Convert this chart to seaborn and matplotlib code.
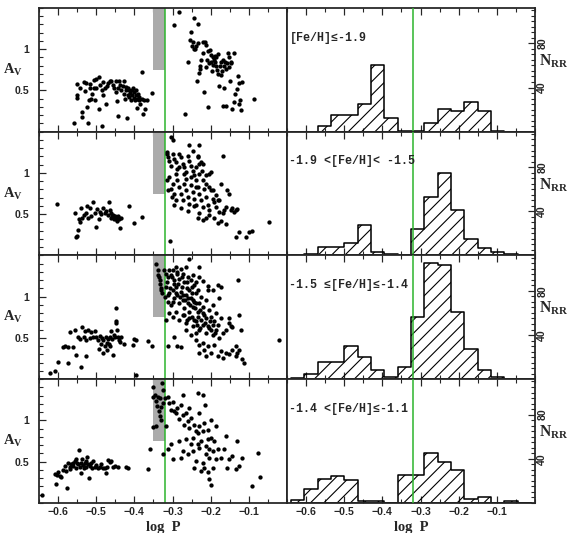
import numpy as np
import pandas as pd
import matplotlib
matplotlib.use('Agg')
import matplotlib.pyplot as plt
from matplotlib.ticker import MultipleLocator, FixedLocator
import seaborn as sns

# --- DATOS ---

# bordes de los bins del histograma (log P)
bin_edges = [-0.640, -0.605, -0.570, -0.535, -0.500, -0.465, -0.430, -0.395, -0.360,
             -0.325, -0.290, -0.255, -0.220, -0.185, -0.150, -0.115, -0.080, -0.045, -0.010]

# N_RR por bin, un arreglo por intervalo de metalicidad
n_feh1 = [0, 0, 5, 15, 15, 25, 60, 12, 1, 1, 8, 21, 19, 27, 19, 1, 0, 0]
n_feh2 = [0, 1, 8, 8, 11, 28, 3, 1, 0, 24, 53, 75, 41, 15, 7, 3, 1, 0]
n_feh3 = [1, 5, 16, 16, 30, 20, 8, 2, 11, 56, 105, 103, 61, 27, 8, 2, 0, 0]
n_feh4 = [3, 13, 22, 24, 21, 2, 2, 0, 25, 25, 45, 37, 30, 4, 5, 0, 2, 0]

# estrellas (log P, A_V)
stars_feh1 = [
    (-0.559, 0.10), (-0.550, 0.58), (-0.550, 0.45), (-0.550, 0.41), (-0.543, 0.53), (-0.538, 0.24),
    (-0.536, 0.18), (-0.531, 0.60), (-0.529, 0.49), (-0.526, 0.59), (-0.524, 0.30), (-0.521, 0.11),
    (-0.519, 0.38), (-0.517, 0.53), (-0.515, 0.58), (-0.514, 0.40), (-0.510, 0.46), (-0.507, 0.63),
    (-0.505, 0.53), (-0.503, 0.38), (-0.500, 0.53), (-0.500, 0.64), (-0.494, 0.66), (-0.494, 0.27),
    (-0.491, 0.57), (-0.486, 0.50), (-0.484, 0.07), (-0.482, 0.60), (-0.481, 0.45), (-0.477, 0.53),
    (-0.475, 0.34), (-0.472, 0.55), (-0.468, 0.59), (-0.465, 0.61), (-0.461, 0.62), (-0.456, 0.57),
    (-0.453, 0.53), (-0.449, 0.48), (-0.447, 0.62), (-0.446, 0.37), (-0.444, 0.19), (-0.442, 0.53),
    (-0.439, 0.62), (-0.437, 0.57), (-0.434, 0.50), (-0.430, 0.55), (-0.428, 0.61), (-0.427, 0.46),
    (-0.425, 0.40), (-0.423, 0.54), (-0.421, 0.50), (-0.420, 0.17), (-0.418, 0.45), (-0.416, 0.53),
    (-0.414, 0.42), (-0.413, 0.51), (-0.411, 0.47), (-0.409, 0.38), (-0.407, 0.50), (-0.406, 0.44),
    (-0.404, 0.53), (-0.402, 0.41), (-0.400, 0.48), (-0.399, 0.38), (-0.397, 0.44), (-0.395, 0.50),
    (-0.394, 0.29), (-0.392, 0.40), (-0.390, 0.46), (-0.388, 0.38), (-0.387, 0.42), (-0.385, 0.34),
    (-0.381, 0.40), (-0.380, 0.73), (-0.378, 0.22), (-0.376, 0.38), (-0.371, 0.27), (-0.366, 0.38),
    (-0.355, 0.47),
    (-0.296, 1.29), (-0.282, 1.45), (-0.268, 0.21), (-0.260, 0.85), (-0.254, 1.11), (-0.251, 1.21),
    (-0.249, 1.04), (-0.247, 1.09), (-0.244, 1.38), (-0.244, 1.00), (-0.240, 1.00), (-0.239, 1.04),
    (-0.237, 0.61), (-0.233, 1.31), (-0.232, 1.08), (-0.230, 0.71), (-0.228, 0.76), (-0.227, 0.80),
    (-0.225, 0.87), (-0.221, 1.09), (-0.220, 0.95), (-0.218, 0.48), (-0.216, 1.09), (-0.213, 1.05),
    (-0.211, 0.79), (-0.209, 0.87), (-0.207, 0.98), (-0.206, 0.30), (-0.204, 0.83), (-0.202, 0.99),
    (-0.200, 0.84), (-0.199, 0.93), (-0.197, 0.74), (-0.195, 0.90), (-0.193, 0.81), (-0.192, 0.87),
    (-0.190, 0.92), (-0.188, 0.84), (-0.186, 0.80), (-0.185, 0.91), (-0.183, 0.75), (-0.181, 0.70),
    (-0.180, 0.94), (-0.178, 0.56), (-0.176, 0.80), (-0.174, 0.69), (-0.173, 0.84), (-0.171, 0.74),
    (-0.169, 0.87), (-0.167, 0.31), (-0.166, 0.80), (-0.164, 0.53), (-0.162, 0.85), (-0.160, 0.76),
    (-0.159, 0.31), (-0.157, 0.83), (-0.155, 0.96), (-0.153, 0.79), (-0.151, 0.91), (-0.150, 0.62),
    (-0.148, 0.84), (-0.146, 0.83), (-0.143, 0.28), (-0.139, 0.95), (-0.138, 0.36), (-0.136, 0.46),
    (-0.132, 0.52), (-0.129, 0.67), (-0.127, 0.59), (-0.125, 0.34), (-0.122, 0.38), (-0.120, 0.26),
    (-0.118, 0.60), (-0.086, 0.40),
]

stars_feh2 = [
    (-0.604, 0.63), (-0.556, 0.51), (-0.554, 0.23), (-0.550, 0.24), (-0.548, 0.31), (-0.545, 0.44),
    (-0.543, 0.41), (-0.540, 0.58), (-0.536, 0.46), (-0.533, 0.49), (-0.528, 0.52), (-0.524, 0.60),
    (-0.521, 0.46), (-0.517, 0.57), (-0.513, 0.48), (-0.508, 0.65), (-0.504, 0.51), (-0.500, 0.35),
    (-0.498, 0.56), (-0.494, 0.44), (-0.491, 0.53), (-0.487, 0.50), (-0.482, 0.57), (-0.478, 0.52),
    (-0.474, 0.54), (-0.469, 0.49), (-0.467, 0.65), (-0.465, 0.55), (-0.461, 0.46), (-0.460, 0.51),
    (-0.458, 0.48), (-0.456, 0.49), (-0.454, 0.46), (-0.453, 0.44), (-0.451, 0.48), (-0.449, 0.47),
    (-0.447, 0.44), (-0.446, 0.42), (-0.444, 0.46), (-0.442, 0.48), (-0.440, 0.45), (-0.439, 0.44),
    (-0.437, 0.33), (-0.435, 0.46), (-0.414, 0.60), (-0.402, 0.39), (-0.381, 0.47),
    (-0.315, 1.23), (-0.307, 0.17), (-0.304, 1.44), (-0.299, 1.40), (-0.314, 1.26), (-0.313, 1.19),
    (-0.308, 1.15), (-0.304, 1.09), (-0.299, 1.23), (-0.295, 1.17), (-0.291, 1.13), (-0.287, 1.05),
    (-0.282, 1.23), (-0.278, 1.19), (-0.273, 1.11), (-0.269, 1.07), (-0.265, 1.01), (-0.260, 1.21),
    (-0.256, 1.15), (-0.252, 1.09), (-0.247, 1.03), (-0.243, 0.97), (-0.239, 0.91), (-0.234, 1.21),
    (-0.230, 1.34), (-0.226, 1.13), (-0.256, 1.34), (-0.247, 1.27), (-0.239, 1.07), (-0.230, 0.99),
    (-0.221, 0.91), (-0.212, 0.87), (-0.204, 0.83), (-0.195, 0.79), (-0.186, 0.73), (-0.178, 0.67),
    (-0.315, 0.91), (-0.313, 0.79), (-0.308, 0.95), (-0.304, 0.81), (-0.301, 0.71), (-0.299, 0.87),
    (-0.295, 0.75), (-0.291, 0.67), (-0.287, 0.91), (-0.282, 0.83), (-0.278, 0.75), (-0.273, 0.67),
    (-0.269, 0.87), (-0.265, 0.79), (-0.260, 0.71), (-0.256, 0.63), (-0.252, 0.85), (-0.247, 0.77),
    (-0.243, 0.69), (-0.239, 0.61), (-0.234, 0.83), (-0.230, 0.75), (-0.226, 0.67), (-0.221, 0.59),
    (-0.217, 0.81), (-0.212, 0.71), (-0.208, 0.61), (-0.204, 0.55), (-0.200, 0.79), (-0.195, 0.69),
    (-0.191, 0.65), (-0.186, 0.59), (-0.182, 0.67), (-0.178, 0.53), (-0.173, 0.87), (-0.169, 1.21),
    (-0.169, 0.51), (-0.165, 0.55), (-0.160, 0.59), (-0.156, 0.79), (-0.151, 0.75), (-0.147, 0.55),
    (-0.143, 0.57), (-0.139, 0.53), (-0.134, 0.55), (-0.130, 0.56), (-0.221, 0.43), (-0.212, 0.45),
    (-0.204, 0.49), (-0.191, 0.45), (-0.182, 0.39), (-0.173, 0.42), (-0.160, 0.38), (-0.295, 0.61),
    (-0.278, 0.57), (-0.260, 0.54), (-0.243, 0.60), (-0.230, 0.51), (-0.234, 0.45), (-0.282, 1.07),
    (-0.269, 0.99), (-0.291, 0.99), (-0.265, 0.93), (-0.252, 0.95), (-0.239, 0.83), (-0.230, 1.11),
    (-0.212, 0.97), (-0.204, 0.99), (-0.200, 1.01), (-0.220, 1.11), (-0.223, 1.03), (-0.232, 1.19),
    (-0.091, 0.30), (-0.126, 0.29), (-0.108, 0.22), (-0.134, 0.23), (-0.099, 0.28), (-0.046, 0.41),
]

stars_feh3 = [
    (-0.620, 0.07), (-0.608, 0.10), (-0.600, 0.21), (-0.587, 0.39), (-0.582, 0.40), (-0.574, 0.39),
    (-0.573, 0.20), (-0.568, 0.57), (-0.561, 0.39), (-0.556, 0.60), (-0.552, 0.29), (-0.548, 0.51),
    (-0.543, 0.49), (-0.539, 0.15), (-0.536, 0.63), (-0.533, 0.51), (-0.530, 0.58), (-0.528, 0.28),
    (-0.526, 0.48), (-0.521, 0.60), (-0.517, 0.50), (-0.513, 0.57), (-0.508, 0.51), (-0.504, 0.58),
    (-0.500, 0.51), (-0.495, 0.48), (-0.493, 0.37), (-0.491, 0.53), (-0.487, 0.43), (-0.484, 0.50),
    (-0.482, 0.32), (-0.481, 0.48), (-0.478, 0.40), (-0.475, 0.51), (-0.473, 0.44), (-0.472, 0.36),
    (-0.469, 0.49), (-0.467, 0.43), (-0.465, 0.51), (-0.463, 0.40), (-0.461, 0.59), (-0.458, 0.49),
    (-0.456, 0.29), (-0.454, 0.54), (-0.452, 0.51), (-0.449, 0.68), (-0.447, 0.71), (-0.447, 0.86),
    (-0.446, 0.60), (-0.443, 0.51), (-0.440, 0.48), (-0.437, 0.45), (-0.434, 0.51), (-0.426, 0.43),
    (-0.404, 0.42), (-0.400, 0.49), (-0.395, 0.47), (-0.397, 0.05), (-0.365, 0.46), (-0.354, 0.40),
    (-0.343, 1.40), (-0.339, 1.32), (-0.336, 1.24), (-0.333, 1.16), (-0.330, 1.10), (-0.327, 1.04),
    (-0.339, 1.26), (-0.334, 1.20), (-0.330, 1.08),
    (-0.322, 1.32), (-0.318, 1.12), (-0.317, 1.28), (-0.313, 1.24), (-0.308, 1.32), (-0.304, 1.26),
    (-0.299, 1.32), (-0.295, 1.20), (-0.291, 1.36), (-0.287, 1.28), (-0.282, 1.22), (-0.278, 1.34),
    (-0.273, 1.28), (-0.269, 1.18), (-0.265, 1.36), (-0.260, 1.24), (-0.256, 1.46), (-0.252, 1.20),
    (-0.247, 1.26), (-0.243, 1.14), (-0.239, 1.18), (-0.234, 1.08), (-0.230, 1.36), (-0.319, 1.00),
    (-0.313, 0.94), (-0.308, 1.04), (-0.304, 0.90), (-0.299, 1.08), (-0.295, 0.98), (-0.291, 1.12),
    (-0.287, 1.02), (-0.282, 0.92), (-0.278, 1.06), (-0.273, 0.96), (-0.269, 0.86), (-0.265, 1.02),
    (-0.260, 0.92), (-0.256, 1.08), (-0.252, 0.98), (-0.247, 0.88), (-0.243, 0.94), (-0.239, 1.04),
    (-0.234, 0.82), (-0.230, 0.92), (-0.226, 1.00), (-0.221, 0.88), (-0.217, 0.78), (-0.212, 0.96),
    (-0.208, 1.08), (-0.204, 0.84), (-0.200, 0.76), (-0.195, 0.90), (-0.191, 0.70), (-0.186, 0.80),
    (-0.182, 0.66), (-0.178, 0.98), (-0.173, 0.74), (-0.308, 0.80), (-0.299, 0.76), (-0.291, 0.82),
    (-0.282, 0.72), (-0.273, 0.78), (-0.265, 0.68), (-0.256, 0.74), (-0.247, 0.64), (-0.239, 0.70),
    (-0.230, 0.60), (-0.221, 0.66), (-0.212, 0.56), (-0.204, 0.62), (-0.195, 0.54), (-0.186, 0.60),
    (-0.178, 0.50), (-0.169, 0.56), (-0.160, 0.60), (-0.151, 0.74), (-0.147, 0.65), (-0.317, 0.72),
    (-0.313, 0.40), (-0.295, 0.51), (-0.287, 0.40), (-0.278, 0.39), (-0.265, 0.60), (-0.252, 0.54),
    (-0.239, 0.48), (-0.230, 0.42), (-0.217, 0.36), (-0.208, 0.40), (-0.200, 0.32), (-0.191, 0.42),
    (-0.182, 0.28), (-0.173, 0.34), (-0.169, 0.26), (-0.160, 0.32), (-0.151, 0.30), (-0.143, 0.36),
    (-0.134, 0.40), (-0.126, 0.36), (-0.121, 0.60), (-0.117, 0.24), (-0.113, 0.20), (-0.128, 1.20),
    (-0.182, 1.14), (-0.173, 1.12), (-0.195, 1.08), (-0.208, 1.13), (-0.230, 1.24), (-0.221, 1.19),
    (-0.126, 0.78), (-0.151, 0.68), (-0.143, 0.63), (-0.134, 0.28), (-0.130, 0.32), (-0.021, 0.48),
    (-0.230, 0.32), (-0.212, 0.28), (-0.221, 0.44), (-0.239, 0.56),
    (-0.296, 1.15), (-0.290, 1.05), (-0.285, 1.16), (-0.280, 1.00), (-0.276, 1.12), (-0.272, 1.02),
    (-0.268, 0.96), (-0.263, 1.10), (-0.259, 0.98), (-0.255, 0.90), (-0.250, 1.04), (-0.246, 0.96),
    (-0.242, 0.86), (-0.238, 0.92), (-0.234, 0.76), (-0.229, 0.84), (-0.225, 0.72), (-0.220, 0.80),
    (-0.216, 0.68), (-0.212, 0.74), (-0.207, 0.64), (-0.203, 0.70), (-0.198, 0.60), (-0.194, 0.66),
    (-0.190, 0.56), (-0.258, 0.82), (-0.250, 0.76), (-0.244, 0.72), (-0.236, 0.66), (-0.228, 0.62),
    (-0.262, 0.72), (-0.270, 0.78), (-0.300, 0.94), (-0.306, 1.10), (-0.311, 1.02), (-0.315, 1.18),
    (-0.302, 1.24), (-0.288, 1.30), (-0.276, 1.24), (-0.262, 1.18), (-0.248, 1.12),
]

stars_feh4 = [
    (-0.643, 0.10), (-0.608, 0.35), (-0.606, 0.23), (-0.602, 0.34), (-0.600, 0.37), (-0.595, 0.33),
    (-0.591, 0.31), (-0.587, 0.40), (-0.582, 0.45), (-0.578, 0.39), (-0.576, 0.18), (-0.574, 0.49),
    (-0.569, 0.41), (-0.568, 0.44), (-0.565, 0.47), (-0.562, 0.49), (-0.561, 0.45), (-0.556, 0.51),
    (-0.554, 0.43), (-0.552, 0.53), (-0.550, 0.49), (-0.548, 0.47), (-0.545, 0.64), (-0.543, 0.44),
    (-0.541, 0.36), (-0.539, 0.48), (-0.536, 0.53), (-0.534, 0.46), (-0.533, 0.42), (-0.530, 0.49),
    (-0.528, 0.51), (-0.526, 0.44), (-0.524, 0.56), (-0.521, 0.47), (-0.519, 0.30), (-0.517, 0.45),
    (-0.513, 0.49), (-0.510, 0.43), (-0.508, 0.51), (-0.504, 0.44), (-0.500, 0.46), (-0.495, 0.43),
    (-0.491, 0.44), (-0.487, 0.47), (-0.482, 0.42), (-0.478, 0.43), (-0.475, 0.36), (-0.473, 0.44),
    (-0.469, 0.52), (-0.465, 0.50), (-0.461, 0.51), (-0.456, 0.44), (-0.452, 0.45), (-0.443, 0.44),
    (-0.421, 0.44), (-0.417, 0.43), (-0.365, 0.41),
    (-0.360, 0.66), (-0.352, 1.41), (-0.350, 1.29), (-0.347, 1.31), (-0.343, 1.24), (-0.341, 1.18),
    (-0.339, 1.29), (-0.336, 1.11), (-0.334, 1.27), (-0.330, 1.16), (-0.327, 1.45), (-0.326, 1.21),
    (-0.350, 0.92), (-0.343, 0.93), (-0.334, 1.05), (-0.330, 1.01), (-0.326, 1.37), (-0.318, 0.93),
    (-0.319, 1.27), (-0.313, 1.29), (-0.308, 1.21), (-0.304, 1.13), (-0.299, 1.23), (-0.295, 1.11),
    (-0.291, 1.09), (-0.287, 1.15), (-0.282, 1.02), (-0.278, 1.19), (-0.273, 1.07), (-0.272, 1.31),
    (-0.269, 0.95), (-0.265, 1.09), (-0.260, 0.99), (-0.256, 0.91), (-0.252, 1.03), (-0.247, 0.79),
    (-0.243, 0.95), (-0.239, 0.87), (-0.234, 0.85), (-0.230, 0.93), (-0.226, 0.75), (-0.221, 0.87),
    (-0.217, 0.97), (-0.212, 0.69), (-0.208, 0.77), (-0.204, 0.65), (-0.200, 0.79), (-0.195, 0.63),
    (-0.191, 0.75), (-0.232, 1.33), (-0.221, 1.31), (-0.214, 1.19), (-0.282, 0.75), (-0.304, 0.71),
    (-0.313, 0.65), (-0.326, 0.59), (-0.273, 0.63), (-0.260, 0.59), (-0.247, 0.63), (-0.239, 0.51),
    (-0.230, 0.67), (-0.221, 0.49), (-0.212, 0.59), (-0.204, 0.55), (-0.195, 0.43), (-0.186, 0.53),
    (-0.234, 0.71), (-0.252, 0.71), (-0.243, 0.43), (-0.226, 0.39), (-0.217, 0.43), (-0.208, 0.37),
    (-0.204, 0.29), (-0.200, 0.22), (-0.299, 0.53), (-0.278, 0.55), (-0.265, 0.77), (-0.182, 0.65),
    (-0.173, 0.55), (-0.165, 0.65), (-0.156, 0.43), (-0.151, 0.53), (-0.143, 0.57), (-0.134, 0.41),
    (-0.126, 0.45), (-0.117, 0.55), (-0.091, 0.21), (-0.075, 0.61), (-0.071, 0.31), (-0.160, 0.81),
    (-0.130, 0.75), (-0.186, 0.93), (-0.230, 1.09), (-0.208, 0.89), (-0.200, 1.01), (-0.256, 1.15),
]

feh_labels = ['[Fe/H]≤-1.9', '-1.9 <[Fe/H]< -1.5', '-1.5 ≤[Fe/H]≤-1.4', '-1.4 <[Fe/H]≤-1.1']
stars_all = [stars_feh1, stars_feh2, stars_feh3, stars_feh4]
counts_all = [n_feh1, n_feh2, n_feh3, n_feh4]

logp_cut = -0.32            # linea verde
gap_logp = (-0.35, -0.32)   # zona gris
gap_av = (0.75, 1.5)

# --- ESTILO ---
sns.set_style('ticks')
plt.rcParams['font.family'] = ['Liberation Sans', 'DejaVu Sans']
plt.rcParams['font.weight'] = 'bold'
plt.rcParams['mathtext.fontset'] = 'custom'
plt.rcParams['mathtext.rm'] = 'Liberation Serif:bold'
plt.rcParams['axes.linewidth'] = 1.6
plt.rcParams['hatch.linewidth'] = 1.0
plt.rcParams['hatch.color'] = 'black'
plt.rcParams['xtick.labelsize'] = 9.5
plt.rcParams['ytick.labelsize'] = 9.5

green = '#2fb52f'

fig, axes = plt.subplots(4, 2, figsize=(7.125, 6.6625), dpi=80)
fig.subplots_adjust(left=0.0684, right=0.9386, top=0.985, bottom=0.0563, wspace=0, hspace=0)

centers = (np.array(bin_edges[:-1]) + np.array(bin_edges[1:])) / 2

for i in range(4):
    # --- panel izquierdo: A_V vs log P ---
    ax = axes[i, 0]
    df = pd.DataFrame(stars_all[i], columns=['logP', 'Av'])
    ax.fill_between(gap_logp, gap_av[0], gap_av[1], color='#ababab', lw=0, zorder=1)
    ax.axvline(logp_cut, color=green, lw=1.4, zorder=2)
    sns.scatterplot(data=df, x='logP', y='Av', color='black', s=15, linewidth=0, ax=ax, zorder=3)
    ax.set_xlim(-0.65, 0.0)
    ax.set_ylim(0, 1.5)
    ax.set_yticks([0.5, 1.0], ['0.5', '1'])
    ax.yaxis.set_minor_locator(MultipleLocator(0.1))
    ax.set_xlabel('')
    ax.set_ylabel('')
    ax.text(-0.105, 0.5, r'$\mathrm{A_V}$', transform=ax.transAxes, ha='center', va='center', fontsize=13)

    # --- panel derecho: histograma ---
    axh = axes[i, 1]
    sns.histplot(x=centers, weights=counts_all[i], bins=bin_edges, element='step', fill=True,
                 color='black', facecolor='none', edgecolor='black', hatch='//', linewidth=1.4, ax=axh)
    axh.axvline(logp_cut, color=green, lw=1.4, zorder=3)
    axh.set_xlim(-0.65, 0.0)
    axh.set_ylim(0, 112)
    axh.set_xlabel('')
    axh.set_ylabel('')
    axh.yaxis.set_minor_locator(MultipleLocator(5))
    axh.tick_params(axis='y', which='both', left=False, right=True, labelleft=False,
                    labelright=True, direction='in', pad=2)
    axh.set_yticks([40, 80], ['40', '80'])
    plt.setp(axh.get_yticklabels(), rotation=90, va='center')
    axh.text(1.016, 0.57, r'$\mathrm{N_{RR}}$', transform=axh.transAxes, ha='left', va='center', fontsize=14)
    axh.text(0.01, 0.76, feh_labels[i], transform=axh.transAxes, ha='left', va='center',
             family=['Liberation Mono', 'DejaVu Sans Mono'], fontsize=10.5)

    for a in (ax, axh):
        a.xaxis.set_major_locator(FixedLocator([-0.6, -0.5, -0.4, -0.3, -0.2, -0.1]))
        a.xaxis.set_minor_locator(MultipleLocator(0.05))
        a.tick_params(axis='x', which='both', direction='in', top=True, bottom=True,
                      labelbottom=(i == 3), pad=4)
        a.tick_params(which='major', length=6, width=1.1)
        a.tick_params(which='minor', length=4, width=1.0)
    ax.tick_params(axis='y', which='both', direction='in', left=True, right=False, pad=9)

for xc in (0.286, 0.721):
    fig.text(xc, 0.003, 'log  P', ha='center', va='baseline', family='Liberation Serif', fontsize=13)

fig.savefig('out.png', dpi=80)
